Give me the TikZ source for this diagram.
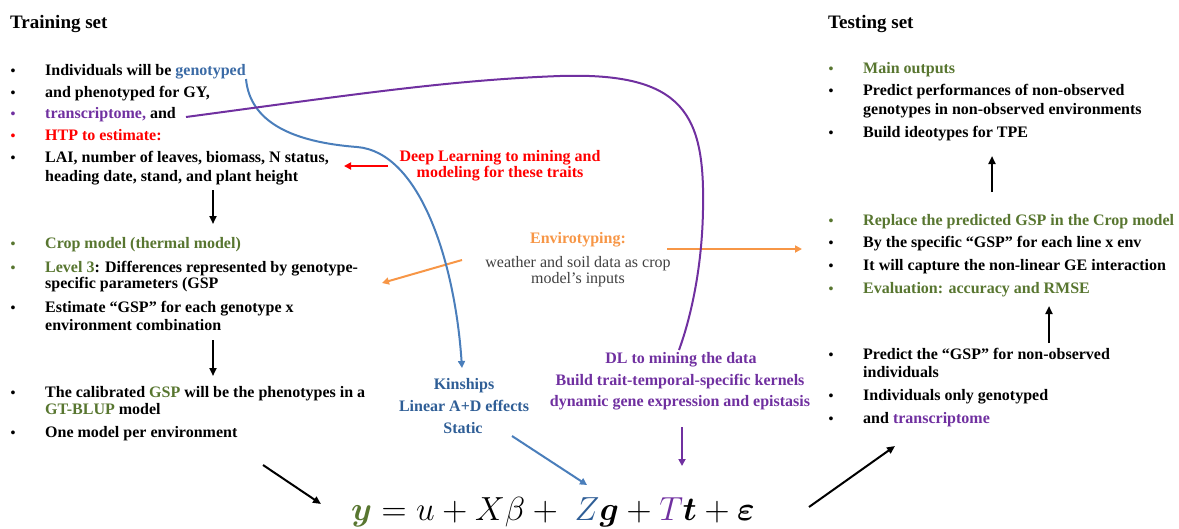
\documentclass[tikz,border=0pt]{standalone}
\usepackage{amsmath,bm,graphicx}
\usepackage{fontspec}
\setmainfont{Liberation Serif}
\usetikzlibrary{arrows.meta}
\definecolor{gr}{RGB}{88,118,48}
\definecolor{gb}{RGB}{59,107,166}
\definecolor{kb}{RGB}{47,94,150}
\definecolor{lb}{RGB}{74,126,187}
\definecolor{pu}{RGB}{112,48,160}
\definecolor{rd}{RGB}{255,0,0}
\definecolor{orn}{RGB}{247,150,70}
\definecolor{gy}{RGB}{64,64,64}
\begin{document}
\begin{tikzpicture}[x=1pt,y=-1pt,
  ln/.style={anchor=base west, inner sep=0pt, font=\fontsize{16}{19}\selectfont\bfseries},
  bul/.style={anchor=base, inner sep=0pt, font=\fontsize{14}{19}\selectfont\bfseries},
  ttl/.style={anchor=base west, inner sep=0pt, font=\fontsize{19}{22}\selectfont\bfseries},
  mid/.style={anchor=base, inner sep=0pt, font=\fontsize{16}{19}\selectfont\bfseries},
  midr/.style={anchor=base, inner sep=0pt, font=\fontsize{16}{19}\selectfont, text=gy},
  arr/.style={line width=2pt, -{Triangle[length=8pt,width=7pt]}},
  carr/.style={line width=2pt, -{Triangle[length=7pt,width=7pt]}},
  curve/.style={line width=2pt}]
\useasboundingbox (0,0) rectangle (1179,528);
% ---------- Training set ----------
\node[ttl] (ttrain) at (10,28) {Training set};
\node[bul] (b1) at (13,75) {•};
\node[ln] (l1) at (45,75) {Individuals will be {\color{gb}genotyped}};
\node[bul] (b2) at (13,97) {•};
\node[ln] (l2) at (45,97) {and phenotyped for GY,};
\node[bul,text=pu] (b3) at (13,118) {•};
\node[ln] (l3) at (45,118) {{\color{pu}transcriptome,} and};
\node[bul,text=rd] (b4) at (13,140) {•};
\node[ln,text=rd] (l4) at (45,140) {HTP to estimate:};
\node[bul] (b5) at (13,162) {•};
\node[ln] (l5) at (45,162) {LAI, number of leaves, biomass, N status,};
\node[ln] (l5b) at (45,181) {heading date, stand, and plant height};
\node[bul,text=gr] (b6) at (13,248) {•};
\node[ln,text=gr] (l6) at (45,248) {Crop model (thermal model)};
\node[bul,text=gr] (b7) at (13,272) {•};
\node[ln] (l7) at (45,272) {{\color{gr}Level 3}: Differences represented by genotype-};
\node[ln] (l7b) at (45,288) {specific parameters (GSP};
\node[bul] (b8) at (13,312) {•};
\node[ln] (l8) at (45,312) {Estimate “GSP” for each genotype x};
\node[ln] (l8b) at (45,330) {environment combination};
\node[bul] (b9) at (13,397) {•};
\node[ln] (l9) at (45,397) {The calibrated {\color{gr}GSP} will be the phenotypes in a};
\node[ln] (l9b) at (45,414) {{\color{gr}GT-BLUP} model};
\node[bul] (b10) at (13,437) {•};
\node[ln] (l10) at (45,437) {One model per environment};
% ---------- Testing set ----------
\node[ttl] (ttest) at (828,28) {Testing set};
\node[bul,text=gr] (r1b) at (831,73) {•};
\node[ln,text=gr] (r1) at (863,73) {Main outputs};
\node[bul] (r2b) at (831,95) {•};
\node[ln] (r2) at (863,95) {Predict performances of non-observed};
\node[ln] (r2c) at (863,114) {genotypes in non-observed environments};
\node[bul] (r3b) at (831,137) {•};
\node[ln] (r3) at (863,137) {Build ideotypes for TPE};
\node[bul,text=gr] (r4b) at (831,225) {•};
\node[ln,text=gr] (r4) at (863,225) {Replace the predicted GSP in the Crop model};
\node[bul] (r5b) at (831,247) {•};
\node[ln] (r5) at (863,247) {By the specific “GSP” for each line x env};
\node[bul] (r6b) at (831,270) {•};
\node[ln] (r6) at (863,270) {It will capture the non-linear GE interaction};
\node[bul,text=gr] (r7b) at (831,293) {•};
\node[ln,text=gr] (r7) at (863,293) {Evaluation: accuracy and RMSE};
\node[bul] (r8b) at (831,359) {•};
\node[ln] (r8) at (863,359) {Predict the “GSP” for non-observed};
\node[ln] (r8c) at (863,377) {individuals};
\node[bul] (r9b) at (831,400) {•};
\node[ln] (r9) at (863,400) {Individuals only genotyped};
\node[bul] (r10b) at (831,423) {•};
\node[ln] (r10) at (863,423) {and {\color{pu}transcriptome}};
% ---------- Middle ----------
\node[mid,text=rd] (dl1) at (500,161) {Deep Learning to mining and};
\node[mid,text=rd] (dl2) at (500,177) {modeling for these traits};
\node[mid,text=orn] (env) at (578,243) {Envirotyping:};
\node[midr] (env2) at (578,267) {weather and soil data as crop};
\node[midr] (env3) at (578,283) {model’s inputs};
\node[mid,text=kb] (k1) at (464,389) {Kinships};
\node[mid,text=kb] (k2) at (464,411) {Linear A+D effects};
\node[mid,text=kb] (k3) at (463,433) {Static};
\node[mid,text=pu] (p1) at (681,363) {DL to mining the data};
\node[mid,text=pu] (p2) at (680,385) {Build trait-temporal-specific kernels};
\node[mid,text=pu] (p3) at (680,406) {dynamic gene expression and epistasis};
\node[anchor=base, inner sep=0pt, font=\fontsize{14.4}{17}\selectfont] (eq) at (553,520)
  {\scalebox{2.32}{$\color{gr}\bm{y}\color{black} = u + X\beta +\; {\color{kb}Z}\bm{g} + {\color{pu}T}\bm{t} + \bm{\varepsilon}$}};
% ---------- coordinates ----------
\coordinate (a1s) at (213,190); \coordinate (a1e) at (213,224);
\coordinate (a2s) at (213,340); \coordinate (a2e) at (213,376);
\coordinate (a3s) at (263,465); \coordinate (a3e) at (321,504);
\coordinate (a4s) at (809,507); \coordinate (a4e) at (895,446);
\coordinate (a5s) at (992,192); \coordinate (a5e) at (992,156);
\coordinate (a6s) at (1049,343); \coordinate (a6e) at (1049,306);
\coordinate (reds) at (388,166); \coordinate (rede) at (344,166);
\coordinate (or1s) at (462,260); \coordinate (or1e) at (382,283);
\coordinate (or2s) at (667,249); \coordinate (or2e) at (802,249);
\coordinate (bls) at (512,436); \coordinate (ble) at (587,485);
\coordinate (pus) at (682,427); \coordinate (pue) at (682,466);
\coordinate (bcs) at (246,79); \coordinate (bcm) at (357,147); \coordinate (bce) at (462,368);
\coordinate (pcs) at (186,117); \coordinate (pcm1) at (560,76); \coordinate (pcm2) at (703,210); \coordinate (pce) at (679,350);
% ---------- connectors ----------
\draw[arr] (a1s) -- (a1e);
\draw[arr] (a2s) -- (a2e);
\draw[arr] (a3s) -- (a3e);
\draw[arr] (a4s) -- (a4e);
\draw[arr] (a5s) -- (a5e);
\draw[arr] (a6s) -- (a6e);
\draw[carr,rd] (reds) -- (rede);
\draw[carr,orn] (or1s) -- (or1e);
\draw[carr,orn] (or2s) -- (or2e);
\draw[carr,lb] (bls) -- (ble);
\draw[carr,pu] (pus) -- (pue);
\draw[curve,lb,-{Triangle[length=7pt,width=7pt]}] (bcs) .. controls (250,122) and (292,142) .. (bcm)
  .. controls (420,152) and (455,262) .. (bce);
\draw[curve,pu] (pcs) .. controls (350,95) and (450,80) .. (pcm1)
  .. controls (685,72) and (705,115) .. (pcm2)
  .. controls (702,270) and (690,320) .. (pce);
\end{tikzpicture}
\end{document}
